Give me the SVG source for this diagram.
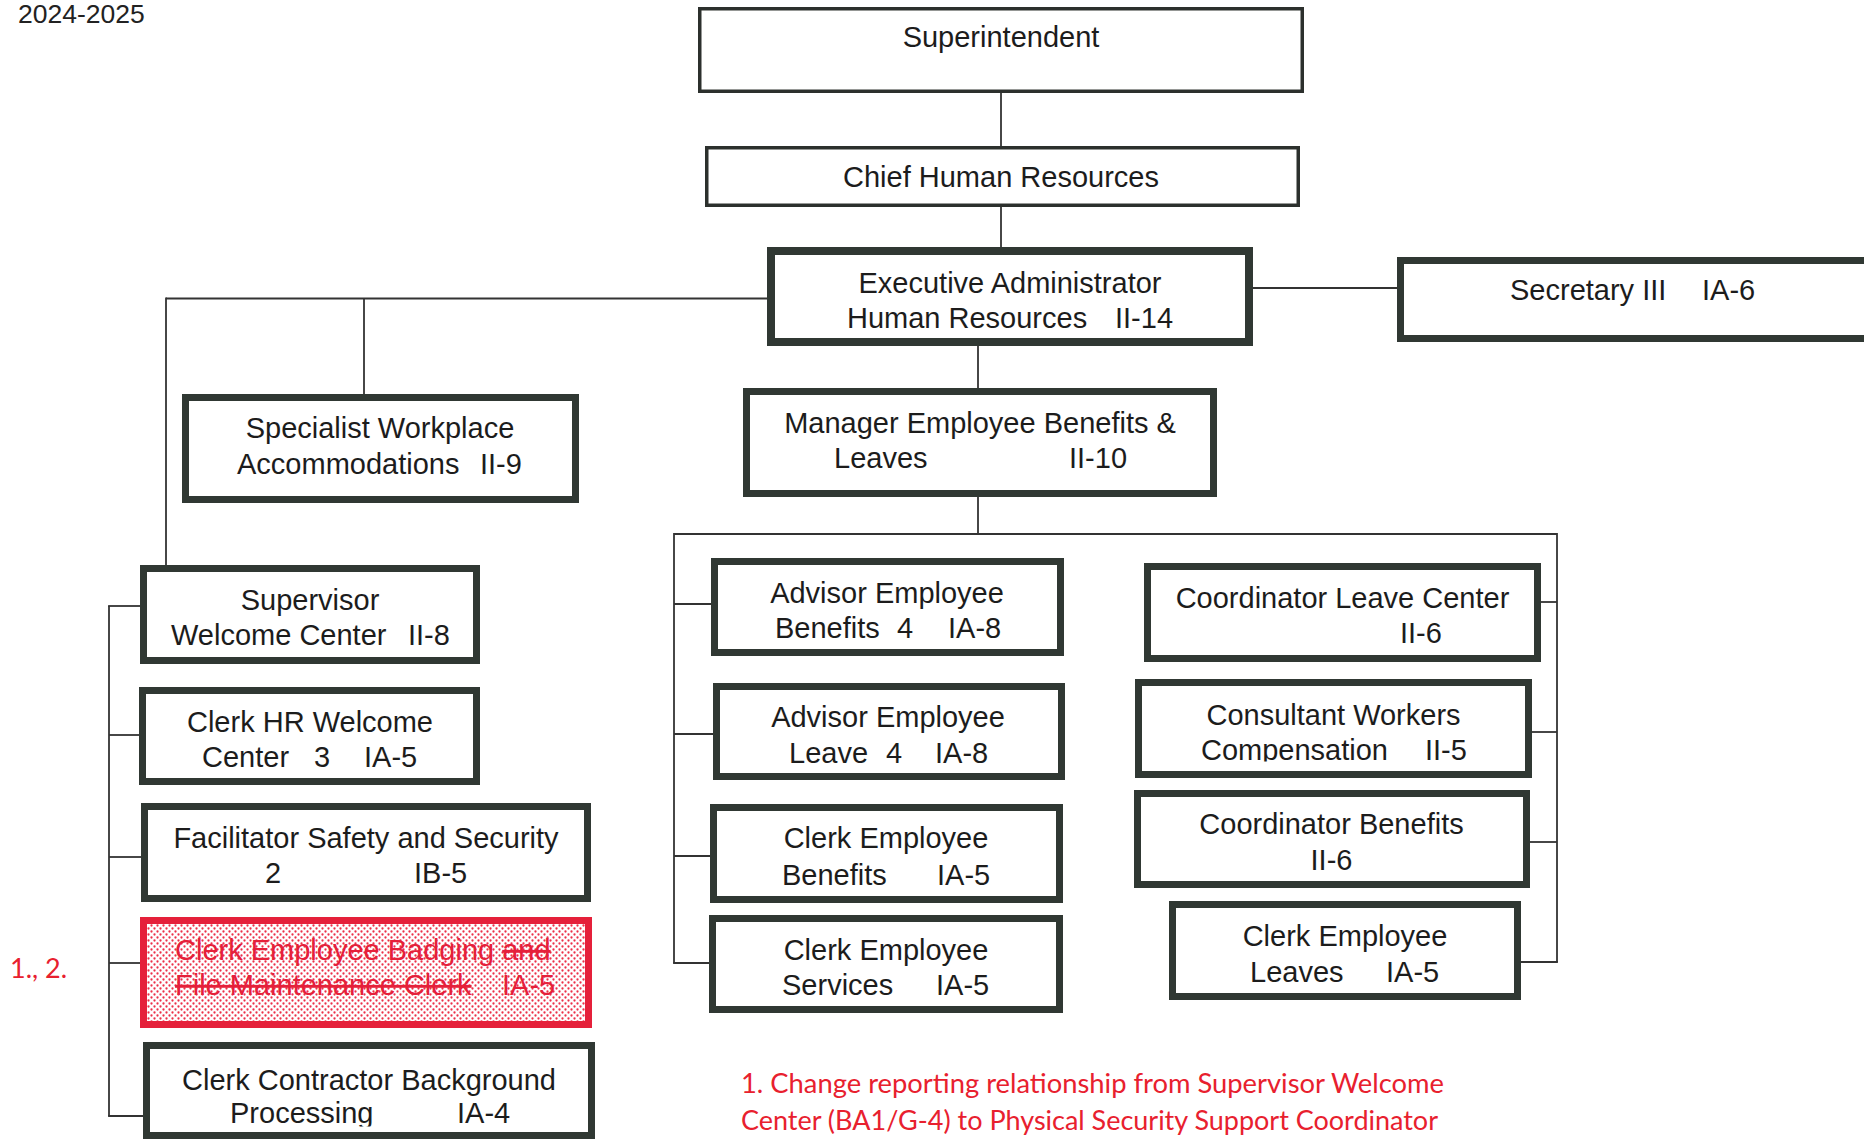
<svg xmlns="http://www.w3.org/2000/svg" width="1864" height="1139" viewBox="0 0 1864 1139">
<style>
  .bg { fill: #ffffff; }
  .box { fill: #ffffff; stroke: #303833; stroke-width: 7; }
  .thin { fill: #ffffff; stroke: #2c302d; stroke-width: 3.5; }
  .red { fill: url(#dots); stroke: #e5203a; stroke-width: 7; }
  .t { font-family: "Liberation Sans", Arial, sans-serif; font-size: 29px; fill: #1c1c1c; }
  .c { text-anchor: middle; }
  .rt { font-family: "Liberation Sans", Arial, sans-serif; font-size: 29px; fill: #e5203a; }
  .strike { text-decoration: line-through; }
  .note { font-family: Lato, "Open Sans", sans-serif; font-size: 27px; fill: #e8202e; }
  .year { font-family: "Liberation Sans", Arial, sans-serif; font-size: 26.5px; fill: #222222; }
  .ln { fill: none; stroke: #333333; stroke-width: 1.8; }
</style>
<defs>
  <pattern id="dots" width="6" height="6" patternUnits="userSpaceOnUse">
    <rect width="6" height="6" fill="#ffffff"/>
    <circle cx="1.5" cy="1.5" r="1.15" fill="#ec3048"/>
    <circle cx="4.5" cy="4.5" r="1.15" fill="#ec3048"/>
  </pattern>
  <clipPath id="clipContractor"><rect x="140" y="1040" width="460" height="86.5"/></clipPath>
  <clipPath id="clipConsultant"><rect x="1130" y="675" width="410" height="86.5"/></clipPath>
</defs>
<rect class="bg" x="0" y="0" width="1864" height="1139"/>

<text class="year" x="18" y="23">2024-2025</text>

<g id="connectors">
  <line class="ln" x1="1001" y1="93" x2="1001" y2="146"/>
  <line class="ln" x1="1001" y1="207" x2="1001" y2="247"/>
  <line class="ln" x1="1253" y1="288" x2="1397" y2="288"/>
  <line class="ln" x1="166" y1="298.5" x2="767" y2="298.5"/>
  <line class="ln" x1="364" y1="298.5" x2="364" y2="394"/>
  <line class="ln" x1="166" y1="297.6" x2="166" y2="565"/>
  <line class="ln" x1="978" y1="346" x2="978" y2="388"/>
  <line class="ln" x1="978" y1="497" x2="978" y2="534"/>
  <line class="ln" x1="674" y1="534" x2="1557" y2="534"/>
  <line class="ln" x1="674" y1="533.1" x2="674" y2="963"/>
  <line class="ln" x1="674" y1="604" x2="711" y2="604"/>
  <line class="ln" x1="674" y1="734" x2="713" y2="734"/>
  <line class="ln" x1="674" y1="856" x2="710" y2="856"/>
  <line class="ln" x1="673.1" y1="963" x2="709" y2="963"/>
  <line class="ln" x1="1557" y1="533.1" x2="1557" y2="962"/>
  <line class="ln" x1="1541" y1="602" x2="1557" y2="602"/>
  <line class="ln" x1="1532" y1="732" x2="1557" y2="732"/>
  <line class="ln" x1="1530" y1="842" x2="1557" y2="842"/>
  <line class="ln" x1="1521" y1="962" x2="1557.9" y2="962"/>
  <line class="ln" x1="109" y1="606" x2="109" y2="1116"/>
  <line class="ln" x1="108.1" y1="606" x2="140" y2="606"/>
  <line class="ln" x1="109" y1="735" x2="139" y2="735"/>
  <line class="ln" x1="109" y1="857" x2="141" y2="857"/>
  <line class="ln" x1="109" y1="963" x2="140" y2="963"/>
  <line class="ln" x1="108.1" y1="1116" x2="143" y2="1116"/>
</g>

<g id="superintendent">
  <rect class="thin" x="699.75" y="8.75" width="602.5" height="82.5"/>
  <text class="t c" x="1001" y="47">Superintendent</text>
</g>

<g id="chief-hr">
  <rect class="thin" x="706.75" y="147.75" width="591.5" height="57.5"/>
  <text class="t c" x="1001" y="187">Chief Human Resources</text>
</g>

<g id="exec-admin">
  <rect class="box" x="771" y="251" width="478" height="91" style="stroke-width:8"/>
  <text class="t c" x="1010" y="293">Executive Administrator</text>
  <text class="t" y="328"><tspan x="847">Human Resources</tspan><tspan x="1115">II-14</tspan></text>
</g>

<g id="secretary">
  <rect class="box" x="1400.5" y="260.5" width="480" height="78"/>
  <text class="t" y="300"><tspan x="1510">Secretary III</tspan><tspan x="1702">IA-6</tspan></text>
</g>

<g id="specialist">
  <rect class="box" x="185.5" y="397.5" width="390" height="102"/>
  <text class="t c" x="380" y="438">Specialist Workplace</text>
  <text class="t" y="474"><tspan x="237">Accommodations</tspan><tspan x="480">II-9</tspan></text>
</g>

<g id="manager">
  <rect class="box" x="746.5" y="391.5" width="467" height="102"/>
  <text class="t c" x="980" y="433">Manager Employee Benefits &amp;</text>
  <text class="t" y="468"><tspan x="834">Leaves</tspan><tspan x="1069">II-10</tspan></text>
</g>

<g id="supervisor">
  <rect class="box" x="143.5" y="568.5" width="333" height="92"/>
  <text class="t c" x="310" y="610">Supervisor</text>
  <text class="t" y="645"><tspan x="171">Welcome Center</tspan><tspan x="408">II-8</tspan></text>
</g>

<g id="clerk-hr-welcome">
  <rect class="box" x="142.5" y="690.5" width="334" height="91"/>
  <text class="t c" x="310" y="732">Clerk HR Welcome</text>
  <text class="t" y="767"><tspan x="202">Center</tspan><tspan x="314">3</tspan><tspan x="364">IA-5</tspan></text>
</g>

<g id="facilitator">
  <rect class="box" x="144.5" y="806.5" width="443" height="92"/>
  <text class="t c" x="366" y="848">Facilitator Safety and Security</text>
  <text class="t" y="883"><tspan x="273" text-anchor="middle">2</tspan><tspan x="414">IB-5</tspan></text>
</g>

<g id="clerk-badging">
  <rect class="red" x="143.5" y="920.5" width="445" height="104"/>
  <text class="rt" y="960" x="175">Clerk Employee Badging <tspan class="strike">and</tspan></text>
  <text class="rt" y="995"><tspan x="175" class="strike">File Maintenance Clerk</tspan><tspan x="502">IA-5</tspan></text>
</g>

<g id="clerk-contractor">
  <rect class="box" x="146.5" y="1045.5" width="445" height="90"/>
  <g clip-path="url(#clipContractor)">
    <text class="t c" x="369" y="1090">Clerk Contractor Background</text>
    <text class="t" y="1123"><tspan x="230">Processing</tspan><tspan x="457">IA-4</tspan></text>
  </g>
</g>

<g id="advisor-benefits">
  <rect class="box" x="714.5" y="561.5" width="346" height="91"/>
  <text class="t c" x="887" y="603">Advisor Employee</text>
  <text class="t" y="638"><tspan x="775">Benefits</tspan><tspan x="897">4</tspan><tspan x="948">IA-8</tspan></text>
</g>

<g id="advisor-leave">
  <rect class="box" x="716.5" y="686.5" width="345" height="90"/>
  <text class="t c" x="888" y="727">Advisor Employee</text>
  <text class="t" y="763"><tspan x="789">Leave</tspan><tspan x="886">4</tspan><tspan x="935">IA-8</tspan></text>
</g>

<g id="clerk-benefits">
  <rect class="box" x="713.5" y="807.5" width="346" height="92"/>
  <text class="t c" x="886" y="848">Clerk Employee</text>
  <text class="t" y="885"><tspan x="782">Benefits</tspan><tspan x="937">IA-5</tspan></text>
</g>

<g id="clerk-services">
  <rect class="box" x="712.5" y="918.5" width="347" height="91"/>
  <text class="t c" x="886" y="960">Clerk Employee</text>
  <text class="t" y="995"><tspan x="782">Services</tspan><tspan x="936">IA-5</tspan></text>
</g>

<g id="coordinator-leave">
  <rect class="box" x="1147.5" y="566.5" width="390" height="92"/>
  <text class="t c" x="1342.5" y="608">Coordinator Leave Center</text>
  <text class="t" y="643"><tspan x="1400">II-6</tspan></text>
</g>

<g id="consultant-workers">
  <rect class="box" x="1138.5" y="682.5" width="390" height="92"/>
  <g clip-path="url(#clipConsultant)">
    <text class="t c" x="1333.5" y="725">Consultant Workers</text>
    <text class="t" y="760"><tspan x="1201">Compensation</tspan><tspan x="1425">II-5</tspan></text>
  </g>
</g>

<g id="coordinator-benefits">
  <rect class="box" x="1137.5" y="793.5" width="389" height="91"/>
  <text class="t c" x="1331.5" y="834">Coordinator Benefits</text>
  <text class="t c" x="1331.5" y="870">II-6</text>
</g>

<g id="clerk-leaves">
  <rect class="box" x="1172.5" y="904.5" width="345" height="92"/>
  <text class="t c" x="1345" y="946">Clerk Employee</text>
  <text class="t" y="982"><tspan x="1250">Leaves</tspan><tspan x="1386">IA-5</tspan></text>
</g>

<text class="note" x="10" y="978">1., 2.</text>
<text class="note" x="741" y="1093" textLength="703" lengthAdjust="spacingAndGlyphs">1. Change reporting relationship from Supervisor Welcome</text>
<text class="note" x="741" y="1130" textLength="697" lengthAdjust="spacingAndGlyphs">Center (BA1/G-4) to Physical Security Support Coordinator</text>
</svg>
